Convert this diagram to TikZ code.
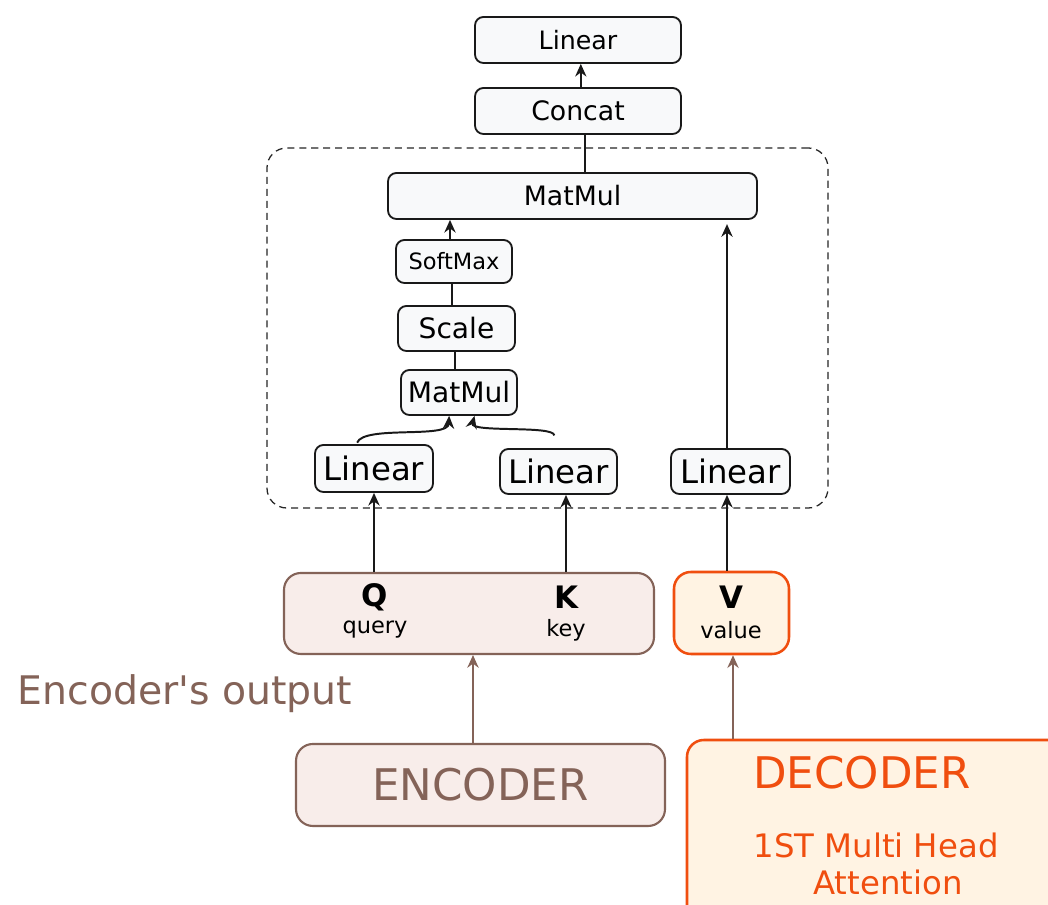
\documentclass[tikz,border=0pt]{standalone}
\usepackage{fontspec}
\setmainfont[Ligatures=NoCommon]{DejaVu Sans}
\usetikzlibrary{arrows.meta,calc}
\definecolor{brn}{HTML}{846358}
\definecolor{pinkfill}{HTML}{F8EDEA}
\definecolor{orng}{HTML}{F04E0F}
\definecolor{orfill}{HTML}{FFF3E3}
\definecolor{grayfill}{HTML}{F8F9FA}
\tikzset{
  opbox/.style={draw=black!90, line width=1.3pt, fill=grayfill, rounded corners=6pt, inner sep=0pt},
  brnbox/.style={draw=brn, line width=1.5pt, fill=pinkfill, rounded corners=12pt, inner sep=0pt},
  orbox/.style={draw=orng, line width=1.8pt, fill=orfill, rounded corners=12pt, inner sep=0pt},
  arr/.style={-{Stealth[length=9pt,width=8pt]}, line width=1.4pt, black!90},
  brnarr/.style={-{Stealth[length=9pt,width=8pt]}, line width=1.6pt, brn},
  ln/.style={line width=1.4pt, black!90},
  txt/.style={inner sep=0pt}
}
\begin{document}
\begin{tikzpicture}[x=0.025cm,y=0.025cm]
\useasboundingbox (0,0) rectangle (1048,905);
\clip (0,0) rectangle (1048,905);
\fill[white] (0,0) rectangle (1048,905);

% dashed frame
\node[draw=black!85, dash pattern=on 5pt off 3.5pt, line width=0.9pt, rounded corners=14pt, minimum width=561*0.025cm, minimum height=360*0.025cm, inner sep=0pt] (frame) at (547.5,577) {};

% top ops
\node[opbox, minimum width=206*0.025cm, minimum height=46*0.025cm, font=\fontsize{18}{20}\selectfont] (lin) at (578,865) {Linear};
\node[opbox, minimum width=206*0.025cm, minimum height=46*0.025cm, font=\fontsize{19}{21}\selectfont] (cat) at (578,794) {Concat};
\node[opbox, minimum width=369*0.025cm, minimum height=46*0.025cm, font=\fontsize{19}{21}\selectfont] (mm) at (572.5,709) {MatMul};
\node[opbox, minimum width=116*0.025cm, minimum height=43*0.025cm, font=\fontsize{16}{18}\selectfont] (sm) at (454,643.5) {SoftMax};
\node[opbox, minimum width=117*0.025cm, minimum height=45*0.025cm, font=\fontsize{20}{22}\selectfont] (sc) at (456.5,576.5) {Scale};
\node[opbox, minimum width=116*0.025cm, minimum height=45*0.025cm, font=\fontsize{20}{22}\selectfont] (mm2) at (459,512.5) {MatMul};
\node[opbox, minimum width=118*0.025cm, minimum height=47*0.025cm, font=\fontsize{23}{25}\selectfont] (ll) at (374,436.5) {Linear};
\node[opbox, minimum width=117*0.025cm, minimum height=45*0.025cm, font=\fontsize{23}{25}\selectfont] (lm) at (558.5,433.5) {Linear};
\node[opbox, minimum width=119*0.025cm, minimum height=45*0.025cm, font=\fontsize{23}{25}\selectfont] (lr) at (730.5,433.5) {Linear};

% QK and V boxes
\node[brnbox, minimum width=370*0.025cm, minimum height=81*0.025cm] (qk) at (469,291.5) {};
\node[orbox, minimum width=115*0.025cm, minimum height=82*0.025cm] (v) at (731.5,292) {};
\node[txt, font=\fontsize{22}{24}\selectfont\bfseries] (qt) at (375,308) {Q};
\node[txt, font=\fontsize{16}{18}\selectfont] (qs) at (375,275) {query};
\node[txt, font=\fontsize{22}{24}\selectfont\bfseries] (kt) at (566,308) {K};
\node[txt, font=\fontsize{16}{18}\selectfont] (ks) at (566,275) {key};
\node[txt, font=\fontsize{22}{24}\selectfont\bfseries] (vt) at (731,308) {V};
\node[txt, font=\fontsize{16}{18}\selectfont] (vs) at (731,275) {value};

% encoder / decoder
\node[brnbox, minimum width=369*0.025cm, minimum height=82*0.025cm, text=brn, font=\fontsize{31}{33}\selectfont] (enc) at (480.5,120) {ENCODER};
\node[orbox, minimum width=380*0.025cm, minimum height=190*0.025cm] (dec) at (877,70) {};
\node[txt, text=orng, font=\fontsize{31}{33}\selectfont] (dect) at (862,132) {DECODER};
\node[txt, text=orng, font=\fontsize{23}{25}\selectfont] (dec1) at (876,60) {1ST Multi Head};
\node[txt, text=orng, font=\fontsize{23}{25}\selectfont] (dec2) at (888,23) {Attention};
\node[txt, text=brn, font=\fontsize{28}{30}\selectfont] (eo) at (185,211) {Encoder\textquotesingle s output};

% connectors
\draw[arr] ([xshift=2]cat.north) -- ([xshift=2]lin.south);
\draw[ln] ([xshift=5]cat.south) -- ([xshift=5]cat.south |- mm.north);
\draw[arr] (sm.north -| 450,0) -- (mm.south -| 450,0);
\draw[ln] (sc.north -| 452,0) -- (sm.south -| 452,0);
\draw[ln] (mm2.north -| 455,0) -- (sc.south -| 455,0);
\draw[arr] (lr.north -| 727,0) -- ([yshift=-3]mm.south -| 727,0);
\draw[arr] ([xshift=-12,yshift=1]ll.north) .. controls (364,480) and (448,466) .. ([xshift=-7]mm2.south);
\draw[arr] ([xshift=-3,yshift=9]lm.north) .. controls (554,480) and (470,472) .. ([xshift=11]mm2.south);
\draw[arr] (qk.north -| ll.south) -- (ll.south);
\draw[arr] (qk.north -| 566,0) -- (lm.south -| 566,0);
\draw[arr] (v.north -| 727,0) -- (lr.south -| 727,0);
\draw[brnarr] (enc.north -| 473,0) -- (qk.south -| 473,0);
\draw[brnarr] (dec.north -| 733,0) -- (v.south -| 733,0);
\end{tikzpicture}
\end{document}
